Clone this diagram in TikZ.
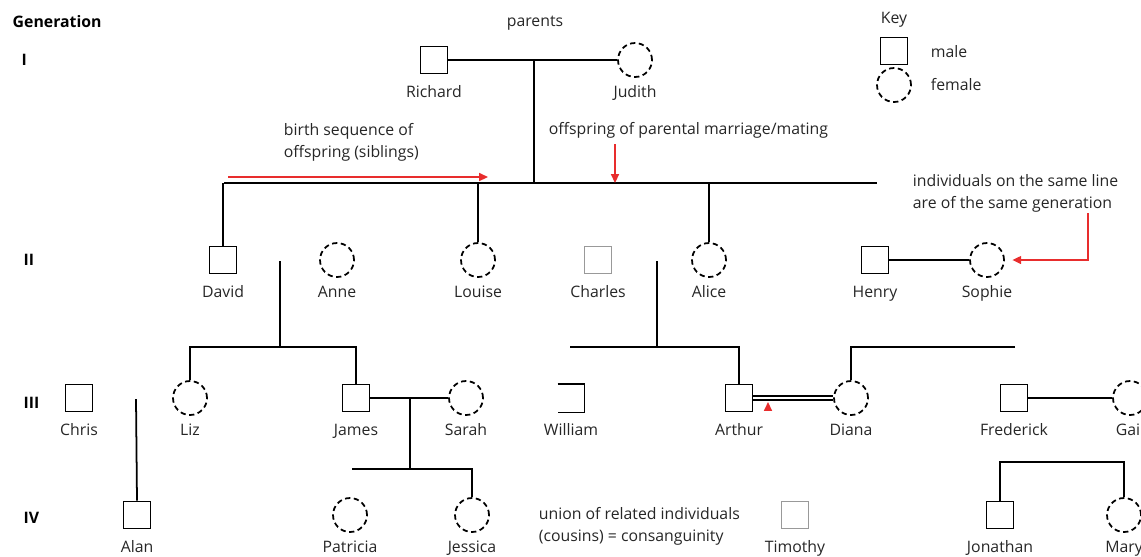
\documentclass[tikz,border=0pt]{standalone}
\usepackage{fontspec}
\setmainfont{Open Sans}
\usepackage{xcolor}
\usepackage{tikz}
\usetikzlibrary{arrows.meta,positioning,shapes}

\definecolor{markred}{RGB}{232,45,45}

\begin{document}
\begin{tikzpicture}[x=0.02cm, y=-0.02cm, line width=1pt,
  font=\fontsize{9}{12.5}\selectfont,
  male/.style={draw, rectangle, minimum size=0.54cm, inner sep=0pt},
  female/.style={draw, circle, densely dashed, minimum size=0.68cm, inner sep=0pt},
  faint/.style={draw=black!40},
  who/.style={anchor=base, inner sep=0pt, text=black!85},
  gen/.style={anchor=west, font=\fontsize{9}{11}\selectfont\bfseries},
  note/.style={anchor=west, align=left, inner sep=0pt, text=black!85},
  tip/.style={markred, line width=0.9pt, -{Triangle[length=5pt,width=4.5pt]}}]
\useasboundingbox (0,0) rectangle (1141,556);

% generation column
\node[gen] (genhead) at (6,22) {Generation};
\node[gen] (g1) at (15,60) {I};
\node[gen] (g2) at (17,260) {II};
\node[gen] (g3) at (17,403) {III};
\node[gen] (g4) at (17,518) {IV};

% key
\node[note] (keyhead) at (880,20) {Key};
\node[male] (keym) at (894,51) {};
\node[female] (keyf) at (894,85) {};
\node[note] (keymt) at (930,52) {male};
\node[note] (keyft) at (930,85) {female};

% generation I
\node[note, anchor=center] (parents) at (535,23) {parents};
\node[male] (richard) at (434,60) {};
\node[female] (judith) at (635,60) {};
\node[who] (richardname) at ([yshift=-0.74cm]richard.center) {Richard};
\node[who] (judithname) at ([yshift=-0.74cm]judith.center) {Judith};
\coordinate (pm) at (534,60);
\coordinate (sibL) at (224,183);
\coordinate (sibR) at (877,183);
\draw (richard) -- (judith);
\draw (pm) -- (pm |- sibL);
\draw (sibL) -- (sibR);

% generation II
\node[male] (david) at (223,260) {};
\node[female] (anne) at (337,260) {};
\node[female] (louise) at (478,260) {};
\node[male, faint] (charles) at (598,260) {};
\node[female] (alice) at (709,260) {};
\node[male] (henry) at (875,260) {};
\node[female] (sophie) at (987,260) {};
\node[who] (davidname) at ([yshift=-0.74cm]david.center) {David};
\node[who] (annename) at ([yshift=-0.74cm]anne.center) {Anne};
\node[who] (louisename) at ([yshift=-0.74cm]louise.center) {Louise};
\node[who] (charlesname) at ([yshift=-0.74cm]charles.center) {Charles};
\node[who] (alicename) at ([yshift=-0.74cm]alice.center) {Alice};
\node[who] (henryname) at ([yshift=-0.74cm]henry.center) {Henry};
\node[who] (sophiename) at ([yshift=-0.74cm]sophie.center) {Sophie};
\draw (david.north) -- (david.north |- sibL);
\draw (louise.north) -- (louise.north |- sibL);
\draw (alice.north) -- (alice.north |- sibL);
\draw (henry) -- (sophie);

% generation III
\node[male] (chris) at (79,398) {};
\node[female] (liz) at (190,398) {};
\node[male] (james) at (356,398) {};
\node[female] (sarah) at (466,398) {};
\node[male, draw=none, minimum width=0.5cm] (william) at (571,398) {};
\node[male] (arthur) at (739,398) {};
\node[female] (diana) at (851,398) {};
\node[male] (frederick) at (1014,398) {};
\node[female] (gail) at (1130,398) {};
\node[who] (chrisname) at ([yshift=-0.74cm]chris.center) {Chris};
\node[who] (lizname) at ([yshift=-0.74cm]liz.center) {Liz};
\node[who] (jamesname) at ([yshift=-0.74cm]james.center) {James};
\node[who] (sarahname) at ([yshift=-0.74cm]sarah.center) {Sarah};
\node[who] (williamname) at ([yshift=-0.74cm]william.center) {William};
\node[who] (arthurname) at ([yshift=-0.74cm]arthur.center) {Arthur};
\node[who] (diananame) at ([yshift=-0.74cm]diana.center) {Diana};
\node[who] (frederickname) at ([yshift=-0.74cm]frederick.center) {Frederick};
\node[who] (gailname) at ([yshift=-0.74cm]gail.center) {Gail};
\draw (william.north west) -- (william.north east) -- (william.south east) -- (william.south west);

\coordinate (da) at (280,261);
\coordinate (daS) at (280,347);
\draw (da) -- (daS);
\draw (liz.north) |- (daS) -| (james.north);

\coordinate (ca) at (657,261);
\coordinate (caL) at (570,347);
\draw (ca) -- (ca |- caL);
\draw (caL) -| (arthur.north);

\coordinate (dfR) at (1015,347);
\draw (dfR) -| (diana.north);

\draw[double, double distance=1.6pt] (arthur) -- (diana);
\draw (james) -- (sarah);
\draw (frederick) -- (gail);

% generation IV
\node[male] (alan) at (137,515) {};
\node[female] (patricia) at (350,515) {};
\node[female] (jessica) at (472,515) {};
\node[male, faint] (timothy) at (795,515) {};
\node[male] (jonathan) at (1000,515) {};
\node[female] (mary) at (1124,515) {};
\node[who] (alanname) at ([yshift=-0.74cm]alan.center) {Alan};
\node[who] (patricianame) at ([yshift=-0.74cm]patricia.center) {Patricia};
\node[who] (jessicaname) at ([yshift=-0.74cm]jessica.center) {Jessica};
\node[who] (timothyname) at ([yshift=-0.74cm]timothy.center) {Timothy};
\node[who] (jonathanname) at ([yshift=-0.74cm]jonathan.center) {Jonathan};
\node[who] (maryname) at ([yshift=-0.74cm]mary.center) {Mary};

\coordinate (chA) at (136,399);
\draw (chA) -- (alan.north);
\coordinate (js) at (410,398);
\coordinate (jsL) at (352,469);
\draw (js) -- (js |- jsL);
\draw (jsL) -| (jessica.north);
\coordinate (jm) at (1060,462);
\draw (jonathan.north) |- (jm) -| (mary.north);

% notes with red pointers
\node[note] (birthtxt) at (283,142) {birth sequence of\\offspring (siblings)};
\node[note] (offtxt) at (548,130) {offspring of parental marriage/mating};
\node[note] (gentxt) at (912,193) {individuals on the same line\\are of the same generation};
\node[note] (uniontxt) at (538,526) {union of related individuals\\(cousins) = consanguinity};

\coordinate (bsA) at (228,177);
\coordinate (bsB) at (488,177);
\draw[tip] (bsA) -- (bsB);
\coordinate (opA) at (615,144);
\draw[tip] (opA) -- (opA |- sibL);
\coordinate (gnA) at (1088,213);
\draw[tip, shorten >=0.15cm] (gnA) |- (sophie.east);
\coordinate (cnA) at (768,410);
\coordinate (cnB) at (768,402);
\draw[tip] (cnA) -- (cnB);
\end{tikzpicture}
\end{document}
